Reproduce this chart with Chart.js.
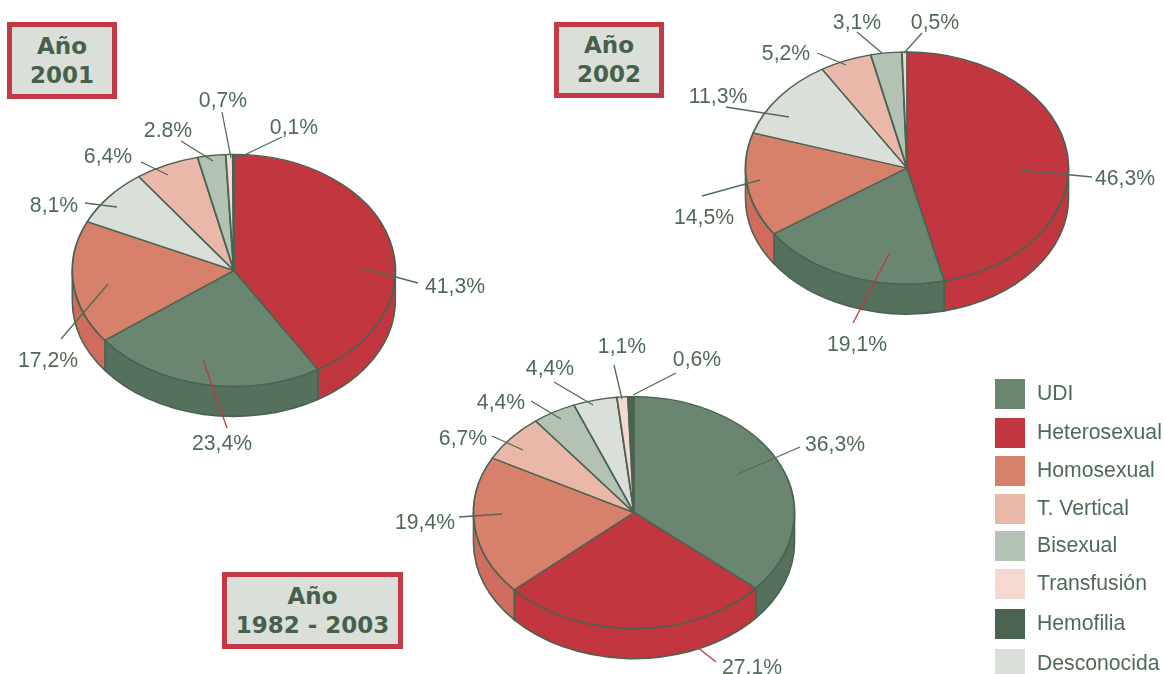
<!DOCTYPE html>
<html lang="es">
<head>
<meta charset="utf-8">
<title>Casos por año</title>
<script src="https://cdn.jsdelivr.net/npm/chart.js@4/dist/chart.umd.min.js"></script>
<style>
html,body{margin:0;padding:0;background:#fff;width:1164px;height:674px;overflow:hidden}
canvas{position:absolute;left:0;top:0}
.yr{position:absolute;box-sizing:border-box;border:5px solid #c43a44;background:#dae0d9;color:#46604c;
 font:bold 23px/29px "DejaVu Sans",sans-serif;
 text-align:center;display:flex;flex-direction:column;justify-content:center}
.sw{position:absolute;left:995px;width:30px;height:30px}
.lb{position:absolute;left:1037px;font:21.2px/30px "Liberation Sans",Arial,sans-serif;color:#4f6b58;white-space:nowrap}
</style>
</head>
<body>
<canvas id="c2001" width="1164" height="674"></canvas>
<canvas id="c2002" width="1164" height="674"></canvas>
<canvas id="c2003" width="1164" height="674"></canvas>
<div class="yr" style="left:7px;top:22px;width:110px;height:77px"><div>Año</div><div>2001</div></div>
<div class="yr" style="left:554px;top:22px;width:110px;height:76px"><div>Año</div><div>2002</div></div>
<div class="yr" style="left:222px;top:572px;width:181px;height:77px"><div>Año</div><div>1982 - 2003</div></div>
<div id="legend"></div>
<script>
// ---- data ----
const legendCategories = ["UDI","Heterosexual","Homosexual","T. Vertical","Bisexual","Transfusión","Hemofilia","Desconocida"];
const legendColors = ["#6a8570","#c2373f","#d7806c","#eab8a8","#b3c2b4","#f5d9d0","#4a6350","#dae0d9"];
const sideColors   = ["#55705c","#c2373f","#d06c5e","#eab8a8","#b3c2b4","#f5d9d0","#4a6350","#dae0d9"];

const categories2001 = ["Heterosexual","UDI","Homosexual","Desconocida","T. Vertical","Bisexual","Transfusión","Hemofilia"];
const values2001 = [41.3,23.4,17.2,8.1,6.4,2.8,0.7,0.1];
const labels2001 = ["41,3%","23,4%","17,2%","8,1%","6,4%","2.8%","0,7%","0,1%"];

const categories2002 = ["Heterosexual","UDI","Homosexual","Desconocida","T. Vertical","Bisexual","Transfusión"];
const values2002 = [46.3,19.1,14.5,11.3,5.2,3.1,0.5];
const labels2002 = ["46,3%","19,1%","14,5%","11,3%","5,2%","3,1%","0,5%"];

const categories2003 = ["UDI","Heterosexual","Homosexual","T. Vertical","Bisexual","Desconocida","Transfusión","Hemofilia"];
const values2003 = [36.3,27.1,19.4,6.7,4.4,4.4,1.1,0.6];
const labels2003 = ["36,3%","27,1%","19,4%","6,7%","4,4%","4,4%","1,1%","0,6%"];

// ---- layout and annotation placement (offsets from the pie centre) ----
const BOX = 162.4, YRADIUS = 116, DEPTH = 30;
const LEADER = "#4f6b58", LEADER_RED = "#c2373f";
// [line x1,y1,x2,y2, text x,y, red?]
const notes2001 = [[129,-2,185,13,222,16],[-30,90,-6,158,-11,173,1],[-125,14,-172,69,-185,90],[-116,-63,-148,-67,-179,-65],
 [-65,-95,-92,-108,-125,-114],[-20,-109,-52,-129,-65,-140],[-2,-112,-11,-158,-10,-170],[3,-111,49,-133,61,-143]];
const notes2002 = [[113,2,185,9,218,10],[-18,86,-54,155,-50,176,1],[-147,12,-205,28,-203,49],[-118,-51,-181,-61,-189,-72],
 [-61,-103,-90,-115,-121,-115],[-25,-115,-50,-136,-50,-146],[-3,-115,15,-135,28,-146]];
const notes2003 = [[104,-38,166,-65,201,-68],[63,135,82,150,118,155,1],[-132,2,-175,5,-209,10],[-111,-62,-142,-76,-171,-74],
 [-73,-93,-103,-111,-133,-110],[-41,-107,-80,-130,-84,-144],[-12,-113,-20,-147,-12,-166],[-1,-117,42,-139,63,-153]];

const legendTops = [379,418,456,494,531,569,609,649];

// ---- plugin: extrudes the wall from the arc elements, squashes the pie, draws leaders ----
const pie3d = {
  id:"pie3d",
  beforeDatasetsDraw(chart){
    const ctx = chart.ctx, arcs = chart.getDatasetMeta(0).data;
    const cx = arcs[0].x, cy = arcs[0].y, r = arcs[0].outerRadius, k = YRADIUS/r;
    const sides = chart.data.datasets[0].sideColor;
    ctx.save();
    ctx.strokeStyle = "#4a6350"; ctx.lineWidth = 1.6; ctx.lineJoin = "round";
    arcs.forEach((arc,i)=>{
      const a0 = Math.max(arc.startAngle,0), a1 = Math.min(arc.endAngle,Math.PI);
      if(a1<=a0) return;
      ctx.beginPath();
      ctx.ellipse(cx,cy,r,YRADIUS,0,a0,a1);
      ctx.ellipse(cx,cy+DEPTH,r,YRADIUS,0,a1,a0,true);
      ctx.closePath();
      ctx.fillStyle = sides[i];
      ctx.fill(); ctx.stroke();
    });
    ctx.restore();
    ctx.save();
    ctx.translate(cx,cy); ctx.scale(1,k); ctx.translate(-cx,-cy);
  },
  afterDatasetsDraw(chart,args,opts){
    const ctx = chart.ctx;
    ctx.restore();
    const a0 = chart.getDatasetMeta(0).data[0], cx = Math.floor(a0.x), cy = Math.floor(a0.y);
    ctx.save();
    ctx.font = '21.2px "Liberation Sans", Arial, sans-serif';
    ctx.textAlign = "center"; ctx.textBaseline = "middle";
    opts.notes.forEach((n,i)=>{
      ctx.strokeStyle = n[6] ? LEADER_RED : LEADER;
      ctx.lineWidth = 1.3;
      ctx.beginPath(); ctx.moveTo(cx+n[0],cy+n[1]); ctx.lineTo(cx+n[2],cy+n[3]); ctx.stroke();
      ctx.fillStyle = "#4f6b58";
      ctx.fillText(opts.labels[i],cx+n[4],cy+n[5]+1);
    });
    ctx.restore();
  }
};

function makePie(id,cx,cy,cats,vals,labs,notes){
  const el = document.getElementById(id);
  new Chart(el,{
    type:"pie",
    data:{labels:cats,datasets:[{
      data:vals,
      backgroundColor:cats.map(c=>legendColors[legendCategories.indexOf(c)]),
      sideColor:cats.map(c=>sideColors[legendCategories.indexOf(c)]),
      borderColor:"#4a6350",borderWidth:1.8,hoverOffset:0,offset:0,borderJoinStyle:"round"
    }]},
    options:{
      responsive:false,animation:false,devicePixelRatio:1,rotation:0,
      events:[],
      layout:{padding:{left:cx-BOX,right:el.width-cx-BOX,top:cy-BOX,bottom:el.height-cy-BOX}},
      plugins:{legend:{display:false},tooltip:{enabled:false},title:{display:false},
        pie3d:{notes:notes,labels:labs}}
    },
    plugins:[pie3d]
  });
}
makePie("c2001",233.8,270.4,categories2001,values2001,labels2001,notes2001);
makePie("c2002",907,168,categories2002,values2002,labels2002,notes2002);
makePie("c2003",634,513.6,categories2003,values2003,labels2003,notes2003);

// ---- legend ----
const lg = document.getElementById("legend");
legendCategories.forEach((c,i)=>{
  const s = document.createElement("div"); s.className="sw";
  s.style.top = legendTops[i]+"px"; s.style.background = legendColors[i];
  const t = document.createElement("div"); t.className="lb";
  t.style.top = (legendTops[i]-1)+"px"; t.textContent = c;
  lg.append(s,t);
});
</script>
</body>
</html>
